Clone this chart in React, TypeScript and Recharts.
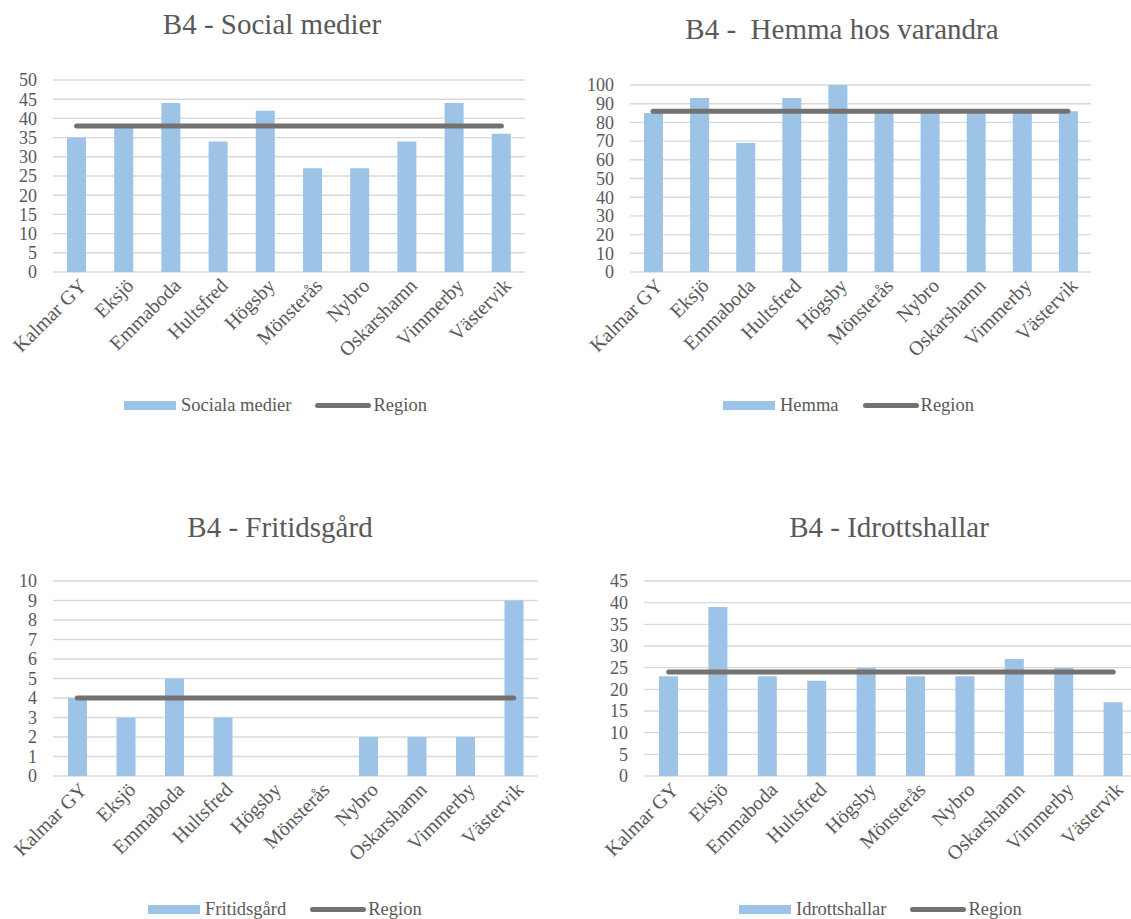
import { Bar, CartesianGrid, ComposedChart, Line, XAxis, YAxis } from "recharts";

const FONT = '"Liberation Serif", "Times New Roman", serif';
const TEXT = "#595959";
const BAR = "#9DC3E6";
const REGION = "#767171";

const schools = [
  "Kalmar GY",
  "Eksjö",
  "Emmaboda",
  "Hultsfred",
  "Högsby",
  "Mönsterås",
  "Nybro",
  "Oskarshamn",
  "Vimmerby",
  "Västervik",
];

const socialValues = [35, 38, 44, 34, 42, 27, 27, 34, 44, 36];
const socialRegion = 38;
const socialTicks = [0, 5, 10, 15, 20, 25, 30, 35, 40, 45, 50];

const hemmaValues = [85, 93, 69, 93, 100, 85, 85, 85, 85, 86];
const hemmaRegion = 86;
const hemmaTicks = [0, 10, 20, 30, 40, 50, 60, 70, 80, 90, 100];

const fritidValues = [4, 3, 5, 3, 0, 0, 2, 2, 2, 9];
const fritidRegion = 4;
const fritidTicks = [0, 1, 2, 3, 4, 5, 6, 7, 8, 9, 10];

const idrottValues = [23, 39, 23, 22, 25, 23, 23, 27, 25, 17];
const idrottRegion = 24;
const idrottTicks = [0, 5, 10, 15, 20, 25, 30, 35, 40, 45];

function rows(values: number[], region: number) {
  return schools.map((name, i) => ({ name, value: values[i], region }));
}

const SlantTick = (props: any) => {
  const { x, y, payload } = props;
  const ax = x + 11;
  const ay = y + 11;
  return (
    <text
      x={ax}
      y={ay}
      transform={`rotate(-45 ${ax} ${ay})`}
      textAnchor="end"
      fill={TEXT}
      fontSize={20}
      fontFamily={FONT}
    >
      {payload.value}
    </text>
  );
};

function LegendRow({ left, cy, label }: { left: number; cy: number; label: string }) {
  return (
    <div
      style={{
        position: "absolute",
        left,
        top: cy - 12,
        height: 24,
        display: "flex",
        alignItems: "center",
        fontFamily: FONT,
        fontSize: 18.5,
        color: TEXT,
        whiteSpace: "nowrap",
      }}
    >
      <span style={{ width: 52, height: 9, background: BAR, marginRight: 5 }} />
      <span>{label}</span>
      <span
        style={{
          width: 56,
          height: 5,
          borderRadius: 3,
          background: REGION,
          marginLeft: 24,
          marginRight: 2,
        }}
      />
      <span>Region</span>
    </div>
  );
}

type PanelProps = {
  left: number;
  top: number;
  width: number;
  height: number;
  title: string;
  titleX: number;
  titleY: number;
  plot: { x0: number; x1: number; y0: number; y1: number };
  values: number[];
  region: number;
  ticks: number[];
  label: string;
  legendLeft: number;
  legendY: number;
};

function Panel(p: PanelProps) {
  const xAxisHeight = 100;
  const data = rows(p.values, p.region);
  return (
    <div style={{ position: "absolute", left: p.left, top: p.top, width: p.width, height: p.height }}>
      <div
        style={{
          position: "absolute",
          left: p.titleX - 250,
          width: 500,
          top: p.titleY - 15,
          height: 30,
          lineHeight: "30px",
          textAlign: "center",
          fontFamily: FONT,
          fontSize: 29,
          color: TEXT,
          whiteSpace: "pre",
        }}
      >
        {p.title}
      </div>
      <ComposedChart
        width={p.width}
        height={p.height}
        data={data}
        margin={{
          top: p.plot.y0,
          right: p.width - p.plot.x1,
          left: 0,
          bottom: p.height - p.plot.y1 - xAxisHeight,
        }}
      >
        <CartesianGrid vertical={false} stroke="#D9D9D9" strokeWidth={1.4} />
        <XAxis
          dataKey="name"
          interval={0}
          height={xAxisHeight}
          axisLine={false}
          tickLine={false}
          tickSize={0}
          tickMargin={4}
          tick={<SlantTick />}
        />
        <YAxis
          width={p.plot.x0}
          domain={[p.ticks[0], p.ticks[p.ticks.length - 1]]}
          ticks={p.ticks}
          interval={0}
          axisLine={false}
          tickLine={false}
          tickSize={0}
          tickMargin={16}
          tick={{ fill: TEXT, fontSize: 18, fontFamily: FONT }}
        />
        <Bar dataKey="value" fill={BAR} barSize={19} isAnimationActive={false} />
        <Line
          type="linear"
          dataKey="region"
          stroke={REGION}
          strokeWidth={5}
          strokeLinecap="round"
          dot={false}
          activeDot={false}
          isAnimationActive={false}
        />
      </ComposedChart>
      <LegendRow left={p.legendLeft} cy={p.legendY} label={p.label} />
    </div>
  );
}

export default function App() {
  return (
    <div
      style={{
        position: "absolute",
        left: 0,
        top: 0,
        width: 1131,
        height: 919,
        overflow: "hidden",
        background: "#fff",
      }}
    >
      <Panel
        left={0}
        top={0}
        width={565}
        height={440}
        title="B4 - Social medier"
        titleX={272}
        titleY={24}
        plot={{ x0: 53, x1: 525, y0: 80, y1: 272 }}
        values={socialValues}
        region={socialRegion}
        ticks={socialTicks}
        label="Sociala medier"
        legendLeft={124}
        legendY={405}
      />
      <Panel
        left={570}
        top={0}
        width={561}
        height={440}
        title="B4 -  Hemma hos varandra"
        titleX={272}
        titleY={29}
        plot={{ x0: 60, x1: 521, y0: 85, y1: 272 }}
        values={hemmaValues}
        region={hemmaRegion}
        ticks={hemmaTicks}
        label="Hemma"
        legendLeft={153}
        legendY={405}
      />
      <Panel
        left={0}
        top={480}
        width={565}
        height={439}
        title="B4 - Fritidsgård"
        titleX={280}
        titleY={47}
        plot={{ x0: 53, x1: 538, y0: 101, y1: 296 }}
        values={fritidValues}
        region={fritidRegion}
        ticks={fritidTicks}
        label="Fritidsgård"
        legendLeft={148}
        legendY={429}
      />
      <Panel
        left={570}
        top={480}
        width={570}
        height={439}
        title="B4 - Idrottshallar"
        titleX={319}
        titleY={47}
        plot={{ x0: 74, x1: 568, y0: 101, y1: 296 }}
        values={idrottValues}
        region={idrottRegion}
        ticks={idrottTicks}
        label="Idrottshallar"
        legendLeft={169}
        legendY={429}
      />
    </div>
  );
}
